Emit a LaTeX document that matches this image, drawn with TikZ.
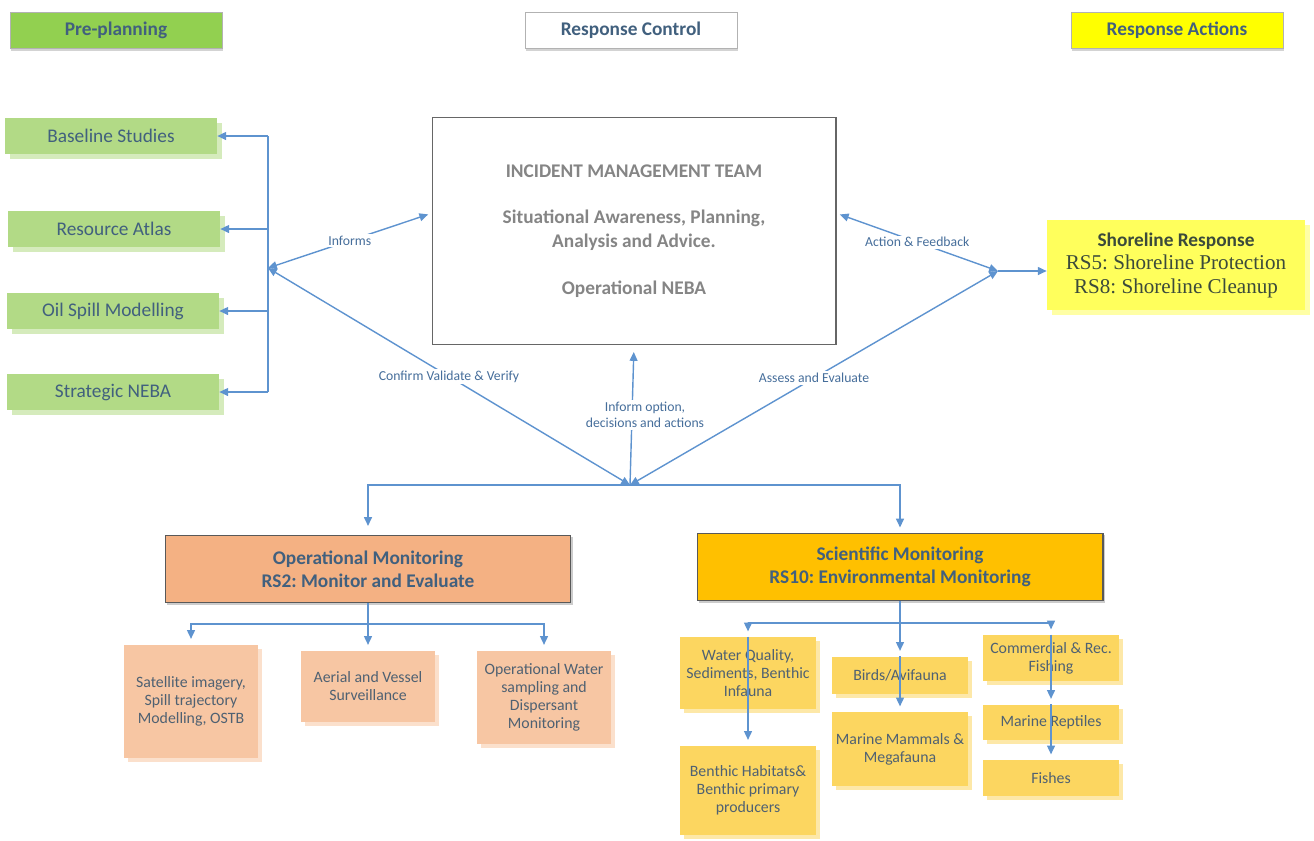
\documentclass[tikz,border=0pt]{standalone}
\usepackage{fontspec}
\setmainfont{Carlito}
\newfontfamily\timesfont{Liberation Serif}
\usetikzlibrary{arrows.meta,shadows}
\frenchspacing
\definecolor{hdrgreen}{HTML}{92D050}
\definecolor{hdryellow}{HTML}{FFFF00}
\definecolor{plangreen}{HTML}{B2DA86}
\definecolor{shoreyellow}{HTML}{FFFF5C}
\definecolor{opfill}{HTML}{F4B183}
\definecolor{scifill}{HTML}{FFC000}
\definecolor{opsubfill}{HTML}{F7C6A3}
\definecolor{scisubfill}{HTML}{FCD660}
\definecolor{txtblue}{HTML}{41607E}
\definecolor{subtxt}{HTML}{4F6172}
\definecolor{imtgrey}{HTML}{858585}
\definecolor{shoretxt}{HTML}{3B4A3B}
\definecolor{linkblue}{HTML}{5E93CF}
\tikzset{
  box/.style={rectangle, align=center, inner sep=2pt, text=txtblue,
    font=\fontsize{11}{13.5}\selectfont},
  header/.style={box, draw=gray!60, minimum width=4.24cm, minimum height=0.72cm,
    font=\bfseries\fontsize{11}{13}\selectfont,
    drop shadow={opacity=0.35, shadow xshift=0.6pt, shadow yshift=-1.6pt}},
  planbox/.style={box, fill=plangreen, minimum width=4.24cm, minimum height=0.72cm,
    general shadow={fill=plangreen!55, shadow xshift=0.1cm, shadow yshift=-0.1cm}},
  imtbox/.style={box, draw=gray!80!black, line width=0.6pt, fill=white, text=imtgrey,
    minimum width=8.08cm, minimum height=4.54cm, font=\bfseries\fontsize{11}{13.6}\selectfont},
  shorebox/.style={box, fill=shoreyellow, text=shoretxt, minimum width=5.16cm, minimum height=1.8cm,
    font=\timesfont\fontsize{12}{13.4}\selectfont,
    general shadow={fill=shoreyellow!55, shadow xshift=0.1cm, shadow yshift=-0.1cm}},
  mainbox/.style={box, draw=gray!70!black, line width=0.6pt, minimum width=8.12cm, minimum height=1.35cm,
    font=\bfseries\fontsize{11}{13}\selectfont,
    drop shadow={opacity=0.4, shadow xshift=1.2pt, shadow yshift=-1.2pt}},
  opsub/.style={box, fill=opsubfill, text=subtxt, minimum width=2.7cm,
    font=\fontsize{9}{10.2}\selectfont,
    general shadow={fill=opsubfill!55, shadow xshift=0.08cm, shadow yshift=-0.08cm}},
  scisub/.style={box, fill=scisubfill, text=subtxt, minimum width=2.72cm,
    font=\fontsize{9}{10.2}\selectfont,
    general shadow={fill=scisubfill!55, shadow xshift=0.08cm, shadow yshift=-0.08cm}},
  link/.style={draw=linkblue, line width=0.8pt},
  arrow/.style={link, -{Triangle[length=5pt,width=4.5pt]}},
  arrow2/.style={link, {Triangle[length=5pt,width=4.5pt]}-{Triangle[length=5pt,width=4.5pt]}},
  lbl/.style={fill=white, inner sep=1pt, align=center, text=linkblue!75!black,
    font=\fontsize{7.8}{9.2}\selectfont}
}
\begin{document}
\begin{tikzpicture}[x=0.02cm,y=-0.02cm]
\useasboundingbox (0,0) rectangle (1314,840);
% headers
\node[header, fill=hdrgreen] (pre) at (116,30) {Pre-planning};
\node[header, fill=white] (ctrl) at (631,30) {Response Control};
\node[header, fill=hdryellow] (act) at (1177,30) {Response Actions};
% pre-planning
\node[planbox] (base) at (111,136) {Baseline Studies};
\node[planbox] (atlas) at (114,229) {Resource Atlas};
\node[planbox] (oil) at (113,311) {Oil Spill Modelling};
\node[planbox] (sneba) at (113,392) {Strategic NEBA};
% response control
\node[imtbox] (imt) at (634,231) {INCIDENT MANAGEMENT TEAM\\[13pt]
  Situational Awareness, Planning,\\ Analysis and Advice.\\[13pt] Operational NEBA};
\node[shorebox] (shore) at (1176,265) {{\normalfont\bfseries\fontsize{11}{13.4}\selectfont Shoreline Response}\\
  RS5: Shoreline Protection\\ RS8: Shoreline Cleanup};
% monitoring
\node[mainbox, fill=opfill] (opm) at (368,569) {Operational Monitoring\\ RS2: Monitor and Evaluate};
\node[mainbox, fill=scifill] (sci) at (900,567) {Scientific Monitoring\\ RS10: Environmental Monitoring};
\node[opsub, minimum height=2.26cm] (sat) at (191,701) {Satellite imagery,\\ Spill trajectory\\ Modelling, OSTB};
\node[opsub, minimum height=1.42cm] (aer) at (368,686) {Aerial and Vessel\\ Surveillance};
\node[opsub, minimum height=1.86cm] (ows) at (544,697) {Operational Water\\ sampling and\\ Dispersant\\ Monitoring};
\node[scisub, minimum height=1.44cm] (wq) at (748,673) {Water Quality,\\ Sediments, Benthic\\ Infauna};
\node[scisub, minimum height=1.78cm] (bh) at (748,790) {Benthic Habitats\&\\ Benthic primary\\ producers};
\node[scisub, minimum height=0.74cm] (birds) at (900,675) {Birds/Avifauna};
\node[scisub, minimum height=1.48cm] (mam) at (900,749) {Marine Mammals \&\\ Megafauna};
\node[scisub, minimum height=0.92cm] (com) at (1051,658) {Commercial \& Rec.\\ Fishing};
\node[scisub, minimum height=0.70cm] (rep) at (1051,722) {Marine Reptiles};
\node[scisub, minimum height=0.72cm] (fish) at (1051,778) {Fishes};
% junctions
\coordinate (lbus) at (268,268);
\coordinate (bj) at (630,485);
\coordinate (rj) at (998,271);
\coordinate (opbus) at (368,624);
\coordinate (scibus) at (900,623);
% connectors
\draw[link] (base.east -| lbus) -- (sneba.east -| lbus);
\foreach \n in {base,atlas,oil,sneba}
  \draw[arrow] (\n.east -| lbus) -- (\n.east);
\draw[arrow2, shorten >=2pt] (lbus) -- node[lbl] {Informs} (imt.175);
\draw[arrow2] (lbus) -- node[lbl] {Confirm Validate \& Verify} (bj);
\draw[arrow2, shorten <=2pt] (imt.5) -- node[lbl] {Action \& Feedback} (rj);
\draw[arrow2] (bj) -- node[lbl] {Assess and Evaluate} (rj);
\draw[arrow, shorten >=4pt] (bj) -- node[lbl, xshift=0.26cm] {Inform option,\\ decisions and actions} (imt.south);
\draw[arrow] (rj) -- (rj -| shore.west);
\draw[arrow, shorten >=5pt] (bj) -| (opm.north);
\draw[arrow, shorten >=3pt] (bj) -| (sci.north);
\draw[arrow, shorten >=3pt] (opm.south) -- (aer.north);
\draw[arrow, shorten >=3pt] (opbus) -| (sat.north);
\draw[arrow, shorten >=3pt] (opbus) -| (ows.north);
\draw[arrow, shorten >=3pt] (sci.south) -- (birds.north);
\draw[arrow, shorten >=3pt] (birds.north) -- (mam.north);
\draw[arrow, shorten >=3pt] (scibus) -| (wq.north);
\draw[arrow, shorten >=3pt] (wq.north) -- (bh.north);
\draw[arrow, shorten >=3pt] (scibus) -| (com.north);
\draw[arrow, shorten >=3pt] (com.north) -- (rep.north);
\draw[arrow, shorten >=3pt] (rep.north) -- (fish.north);
\end{tikzpicture}
\end{document}
